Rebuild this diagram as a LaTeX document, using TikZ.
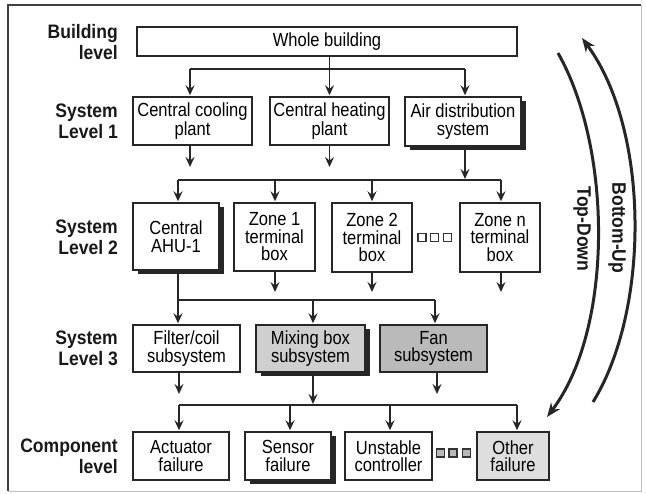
\documentclass[tikz,border=0pt]{standalone}
\usepackage{fontspec}
\setmainfont{Liberation Sans}[FakeStretch=0.87]
\newfontfamily\labfont{Liberation Sans}[FakeStretch=0.9]
\usetikzlibrary{arrows.meta,shadows,calc}
\tikzset{
 bx/.style={draw=black!85, line width=1.4pt, fill=white, inner sep=0pt, align=center,
   font=\fontsize{19}{17.5}\selectfont, text=black},
 shad/.style={drop shadow={shadow xshift=4.5pt, shadow yshift=-4.5pt, fill=black!85, opacity=1}},
 lab/.style={anchor=east, align=right, font=\labfont\bfseries\fontsize{19.5}{21}\selectfont, inner sep=0pt, text=black!90},
 conn/.style={draw=black!85, line width=1.9pt},
 arr/.style={conn, shorten >=1pt, -{Stealth[length=10pt,width=9pt,inset=3.5pt]}},
 bigarc/.style={draw=black!85, line width=3pt, -{Stealth[length=14pt,width=11pt,inset=4.5pt]}},
 dotsq/.style={draw=black!80, line width=1.6pt, minimum size=8pt, inner sep=0pt},
 dotfl/.style={draw=black!80, fill=gray!55, line width=1.6pt, minimum size=8pt, inner sep=0pt},
}
\begin{document}
\begin{tikzpicture}[x=1pt,y=-1pt]
\useasboundingbox (0,0) rectangle (646,494);
% frame
\draw[line width=1.6pt, black!75] (8,491) -- (8,5) -- (641,5);
\draw[line width=0.8pt, black!25] (641,5) -- (641,491) -- (8,491);

% level labels
\node[lab] (lb0) at (118,42) {Building\\level};
\node[lab] (lb1) at (118,121) {System\\Level 1};
\node[lab] (lb2) at (118,237) {System\\Level 2};
\node[lab] (lb3) at (118,348.5) {System\\Level 3};
\node[lab] (lb4) at (118,456) {Component\\level};

% boxes
\node[bx, minimum width=380pt, minimum height=29pt] (wb) at (327,41.5) {Whole building};
\node[bx, minimum width=119pt, minimum height=48pt] (cool) at (192.5,121) {Central cooling\\plant};
\node[bx, minimum width=119pt, minimum height=48pt] (heat) at (329.5,121) {Central heating\\plant};
\node[bx, shad, minimum width=116pt, minimum height=49pt] (air) at (463,121.5) {Air distribution\\system};

\node[bx, shad, minimum width=86pt, minimum height=67pt] (ahu) at (176,236.5) {Central\\AHU-1};
\node[bx, minimum width=81pt, minimum height=68pt] (z1) at (274.5,237) {Zone 1\\terminal\\box};
\node[bx, minimum width=80pt, minimum height=69pt] (z2) at (372,237.5) {Zone 2\\terminal\\box};
\node[bx, minimum width=80pt, minimum height=69pt] (zn) at (500,237.5) {Zone n\\terminal\\box};

\node[bx, minimum width=107pt, minimum height=47pt] (filt) at (186.5,348.5) {Filter/coil\\subsystem};
\node[bx, shad, fill=black!19, minimum width=109pt, minimum height=47pt] (mix) at (310.5,348.5) {Mixing box\\subsystem};
\node[bx, fill=black!27, minimum width=107pt, minimum height=47pt] (fan) at (433.5,348.5) {Fan\\subsystem};

\node[bx, minimum width=96pt, minimum height=48pt] (act) at (181,456) {Actuator\\failure};
\node[bx, shad, minimum width=86pt, minimum height=48pt] (sen) at (288,456) {Sensor\\failure};
\node[bx, minimum width=87pt, minimum height=48pt] (uns) at (388.5,456) {Unstable\\controller};
\node[bx, fill=black!13, minimum width=72pt, minimum height=48pt] (oth) at (513,456) {Other\\failure};

% ellipsis squares
\node[dotsq] (qa1) at (422,237.5) {};
\node[dotsq] (qa2) at (434.5,237.5) {};
\node[dotsq] (qa3) at (447.5,237.5) {};
\node[dotfl] (qb1) at (440.5,453) {};
\node[dotfl] (qb2) at (453,453) {};
\node[dotfl] (qb3) at (466.5,453) {};

% building -> level 1
\coordinate (b1L) at (190,69);
\coordinate (b1R) at (465,69);
\draw[conn] (b1L) -- (b1R);
\draw[arr] (heat.north |- wb.south) -- (heat.north);
\draw[arr] (b1L) -- (b1L |- cool.north);
\draw[arr] (b1R) -- (b1R |- air.north);

% level 1 -> level 2
\coordinate (d1) at (190,168);
\coordinate (d2) at (329.5,168);
\draw[arr] (d1 |- cool.south) -- (d1);
\draw[arr] (d2 |- heat.south) -- (d2);
\coordinate (b2a) at (465,180);
\coordinate (b2L) at (178,180);
\coordinate (b2R) at (501,180);
\draw[arr] (b2a |- air.south) -- (b2a);
\draw[conn] (b2L) -- (b2R);
\draw[arr] (b2L) -- (b2L |- ahu.north);
\draw[arr] (275,180) -- (275,0 |- z1.north);
\draw[arr] (372,180) -- (372,0 |- z2.north);
\draw[arr] (b2R) -- (b2R |- zn.north);

% level 2 -> level 3
\coordinate (b3L) at (178,300);
\coordinate (b3R) at (435,300);
\draw[conn] (b3L |- ahu.south) -- (b3L) -- (b3R);
\coordinate (e1) at (275,293);
\coordinate (e2) at (372,293);
\coordinate (e3) at (501,293);
\draw[arr] (e1 |- z1.south) -- (e1);
\draw[arr] (e2 |- z2.south) -- (e2);
\draw[arr] (e3 |- zn.south) -- (e3);
\draw[arr] (b3L) -- (b3L |- filt.north);
\draw[arr] (313,300) -- (313,0 |- mix.north);
\draw[arr] (b3R) -- (b3R |- fan.north);

% level 3 -> component
\coordinate (f1) at (179,395);
\coordinate (f3) at (437,395);
\coordinate (b4L) at (179,405);
\coordinate (b4R) at (517,405);
\coordinate (b4m) at (313,405);
\draw[arr] (f1 |- filt.south) -- (f1);
\draw[arr] (f3 |- fan.south) -- (f3);
\draw[arr] (b4m |- mix.south) -- (b4m);
\draw[conn] (b4L) -- (b4R);
\draw[arr] (b4L) -- (b4L |- act.north);
\draw[arr] (290,405) -- (290,0 |- sen.north);
\draw[arr] (390,405) -- (390,0 |- uns.north);
\draw[arr] (b4R) -- (b4R |- oth.north);

% top-down / bottom-up arcs
\coordinate (tdS) at (558,53);
\coordinate (tdE) at (547,417);
\draw[bigarc] (tdS) .. controls (613,150) and (613,330) .. (tdE);
\coordinate (buS) at (593,402);
\coordinate (buE) at (582,38);
\draw[bigarc] (buS) .. controls (650,310) and (650,130) .. (buE);
\node[lab, anchor=center, rotate=-90] (td) at (582,229) {Top-Down};
\node[lab, anchor=center, rotate=-90] (bu) at (617,228) {Bottom-Up};
\end{tikzpicture}
\end{document}
